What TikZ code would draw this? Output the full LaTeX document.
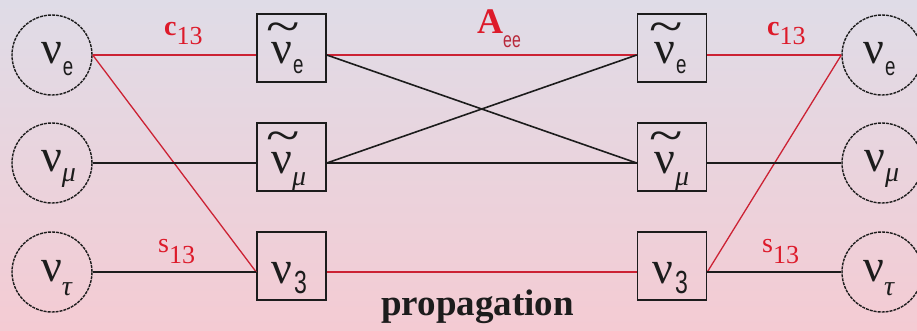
\documentclass[tikz,border=0pt]{standalone}
\usepackage{fontspec}
\setmainfont{Liberation Serif}
\newfontfamily\subf[FakeStretch=0.72]{Liberation Sans}
\definecolor{bgtop}{HTML}{DFDCE7}
\definecolor{bgbot}{HTML}{F4CBD3}
\definecolor{linered}{HTML}{CC2234}
\definecolor{labred}{HTML}{DD1A2A}
\definecolor{subred}{HTML}{B8283A}
\definecolor{ink}{HTML}{1C1C1C}
\newcommand\bignu{{\fontsize{46}{46}\selectfont ν}}
\newcommand\esub[1]{\kern1pt\raisebox{#1}{\fontsize{26}{26}\subf e}}
\newcommand\musub[1]{\raisebox{#1}{\fontsize{28}{28}\selectfont\itshape μ}}
\newcommand\tausub[1]{\raisebox{#1}{\fontsize{28}{28}\selectfont\itshape τ}}
\newcommand\thrsub{\kern2pt\raisebox{-10pt}{\fontsize{32}{32}\subf 3}}
\newcommand\tildemark{\scalebox{1.1}[0.85]{\fontsize{56}{56}\selectfont\textasciitilde}}
\newcommand\coef[3]{{\fontsize{28}{28}\selectfont #1}\raisebox{#2}{\fontsize{26}{26}\selectfont #3}}
\begin{document}
\begin{tikzpicture}[x=1pt,y=-1pt,
  circ/.style={circle,draw=ink,line width=1.4pt,dash pattern=on 3pt off 1pt,minimum size=80pt,inner sep=0pt},
  bx/.style={rectangle,draw=ink,line width=1.6pt,minimum width=69pt,minimum height=68pt,inner sep=0pt},
  txt/.style={anchor=base west,inner sep=0pt,text=ink},
  lab/.style={anchor=base west,inner sep=0pt,text=labred},
  tl/.style={anchor=base,inner sep=0pt,text=ink},
  redline/.style={draw=linered,line width=2.2pt},
  reddiag/.style={draw=linered,line width=1.3pt},
  blkline/.style={draw=ink,line width=1.6pt}]
\useasboundingbox (0,0) rectangle (917,330);
\fill[top color=bgtop,bottom color=bgbot] (0,0) rectangle (917,330);

% left circles
\node[circ] (lve) at (52,55) {};
\node[circ] (lvm) at (52,163) {};
\node[circ] (lvt) at (52,272) {};
\node[txt] (lvet) at (41,63) {\bignu\esub{-12pt}};
\node[txt] (lvmt) at (41,171) {\bignu\musub{-10pt}};
\node[txt] (lvtt) at (41,281) {\bignu\tausub{-14pt}};

% left boxes
\node[bx] (lb1) at (291.5,48) {};
\node[bx] (lb2) at (291.5,157) {};
\node[bx] (lb3) at (291.5,266) {};
\node[txt] (lb1t) at (271,63) {\bignu\esub{-10pt}};
\node[txt] (lb2t) at (271,173) {\bignu\musub{-12pt}};
\node[txt] (lb3t) at (271,283) {\bignu\thrsub};
\node[tl] (lb1tl) at (283,42) {\tildemark};
\node[tl] (lb2tl) at (283,151) {\tildemark};

% right boxes
\node[bx] (rb1) at (672,48) {};
\node[bx] (rb2) at (672,157) {};
\node[bx] (rb3) at (672,266) {};
\node[txt] (rb1t) at (654,63) {\bignu\esub{-10pt}};
\node[txt] (rb2t) at (654,173) {\bignu\musub{-12pt}};
\node[txt] (rb3t) at (652,283) {\bignu\thrsub};
\node[tl] (rb1tl) at (666,42) {\tildemark};
\node[tl] (rb2tl) at (666,151) {\tildemark};

% right circles
\node[circ] (rve) at (882,55) {};
\node[circ] (rvm) at (882,163) {};
\node[circ] (rvt) at (882,272) {};
\node[txt] (rvet) at (863,63) {\bignu\esub{-12pt}};
\node[txt] (rvmt) at (864,171) {\bignu\musub{-10pt}};
\node[txt] (rvtt) at (863,281) {\bignu\tausub{-14pt}};

% connectors (rows at the circles' centre heights)
\draw[redline] (lve.east) -- (lb1.west |- lve.center);
\draw[reddiag] (lve.east) -- (lb3.west |- lvt.center);
\draw[blkline] (lvm.east) -- (lb2.west |- lvm.center);
\draw[blkline] (lvt.east) -- (lb3.west |- lvt.center);
\draw[redline] (lb1.east |- lve.center) -- (rb1.west |- rve.center);
\draw[blkline] (lb1.east |- lve.center) -- (rb2.west |- rvm.center);
\draw[blkline] (lb2.east |- lvm.center) -- (rb1.west |- rve.center);
\draw[blkline] (lb2.east |- lvm.center) -- (rb2.west |- rvm.center);
\draw[redline] (lb3.east |- lvt.center) -- (rb3.west |- rvt.center);
\draw[redline] (rb1.east |- rve.center) -- (rve.west);
\draw[reddiag] (rb3.east |- rvt.center) -- (rve.west);
\draw[blkline] (rb2.east |- rvm.center) -- (rvm.west);
\draw[blkline] (rb3.east |- rvt.center) -- (rvt.west);

% labels
\node[lab] (c1) at (164,35) {\coef{\bfseries c}{-9pt}{13}};
\node[lab] (c2) at (767,35) {\coef{\bfseries c}{-9pt}{13}};
\node[lab] (s1) at (158,252) {\coef{s}{-11pt}{13}};
\node[lab] (s2) at (762,252) {\coef{s}{-11pt}{13}};
\node[lab] (aee) at (477,33) {{\fontsize{36}{36}\selectfont\bfseries A}\raisebox{-14pt}{\fontsize{22}{22}\subf\color{subred}ee}};
\node[anchor=base west,inner sep=0pt,text=ink] (prop) at (381,315) {\fontsize{37}{37}\selectfont\bfseries propagation};
\end{tikzpicture}
\end{document}
